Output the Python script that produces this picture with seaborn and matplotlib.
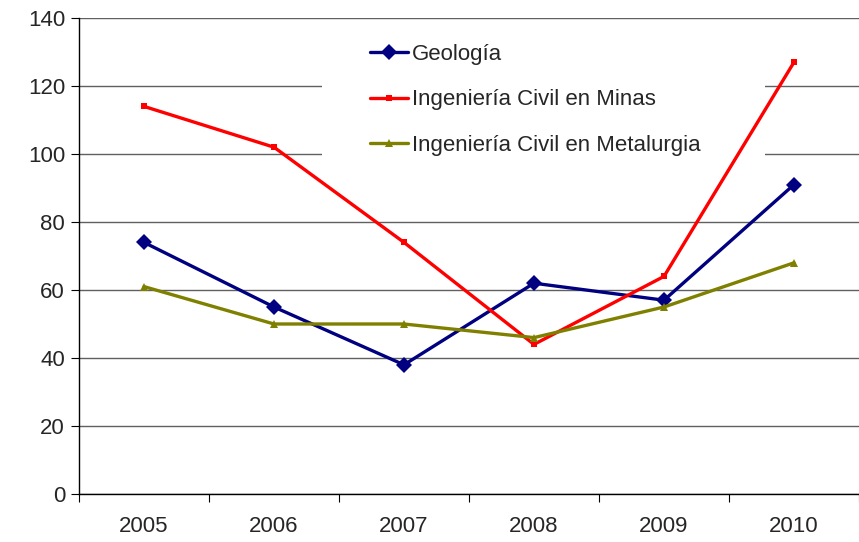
import pandas as pd
import numpy as np
import matplotlib.pyplot as plt
from matplotlib.patches import Rectangle
import seaborn as sns

# data
years = ['2005', '2006', '2007', '2008', '2009', '2010']
geologia = [74, 55, 38, 62, 57, 91]
minas = [114, 102, 74, 44, 64, 127]
metalurgia = [61, 50, 50, 46, 55, 68]
series = ['Geología', 'Ingeniería Civil en Minas', 'Ingeniería Civil en Metalurgia']

data = pd.DataFrame({
    'Año': years * 3,
    'Valor': geologia + minas + metalurgia,
    'Carrera': np.repeat(series, len(years)),
})

sns.set_style('white')
plt.rcParams['font.family'] = ['Liberation Sans', 'DejaVu Sans']

fig = plt.figure(figsize=(8.59, 5.42), dpi=100)
ax = fig.add_axes([79 / 859, 48 / 542, 780 / 859, 476 / 542])

palette = {series[0]: '#000080', series[1]: '#FF0000', series[2]: '#808000'}
markers = {series[0]: 'D', series[1]: 's', series[2]: '^'}
sizes = {series[0]: 8, series[1]: 4, series[2]: 6}

for name in series:
    sub = data[data['Carrera'] == name]
    sns.lineplot(x='Año', y='Valor', data=sub, ax=ax, color=palette[name],
                 marker=markers[name], markersize=sizes[name], markeredgewidth=0,
                 linewidth=2.4, label=name, sort=False, zorder=3)

ax.set_xlim(-0.5, 5.5)
ax.set_ylim(0, 140)
ax.set_yticks(range(0, 141, 20))
ax.grid(axis='y', color='#606060', linewidth=1)
ax.set_axisbelow(True)

# category ticks between years
ax.set_xticks(np.arange(-0.5, 5.6, 1), minor=True)
ax.tick_params(axis='x', which='minor', length=6, width=0.8, color='black', direction='out')
ax.tick_params(axis='x', which='major', length=0, pad=16, labelsize=16)
ax.tick_params(axis='y', length=6, width=0.8, color='black', direction='out', labelsize=16, pad=4)
ax.tick_params(bottom=True, left=True, which='both')

for s in ['top', 'right']:
    ax.spines[s].set_visible(False)
for s in ['left', 'bottom']:
    ax.spines[s].set_color('black')
    ax.spines[s].set_linewidth(1)

ax.set_xlabel('')
ax.set_ylabel('')

# white box behind the legend, hiding the gridlines
ax.add_patch(Rectangle((322 / 859, 1 - 168 / 542), 443 / 859, 140 / 542,
                       transform=fig.transFigure, facecolor='white',
                       edgecolor='none', zorder=1))

leg = ax.legend(loc='upper left', bbox_to_anchor=(370 / 859, 1 - 44 / 542),
                bbox_transform=fig.transFigure, fontsize=16, frameon=False,
                labelspacing=1.1, handlelength=1.7, handletextpad=0.2,
                borderpad=0, borderaxespad=0)

plt.savefig('out.png', dpi=100)
